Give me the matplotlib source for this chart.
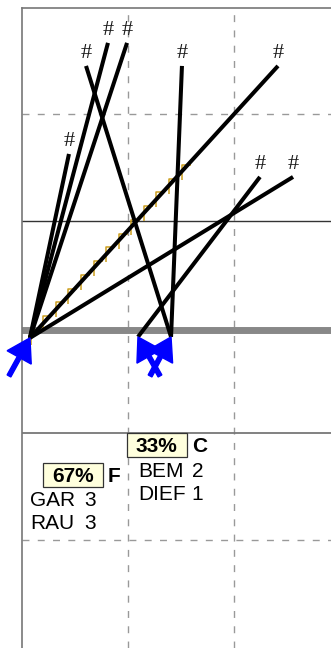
import numpy as np
import matplotlib
matplotlib.use('Agg')
import matplotlib.pyplot as plt
from matplotlib.patches import Rectangle

# ---- data ----
# origin points (where the passes start)
origin_x = [0.075, 1.094, 1.406]
origin_y = [-0.103, -0.094, -0.094]

# passes: origin index and end point
pass_origin = [0, 0, 0, 0, 0, 1, 2, 2]
pass_end_x = [0.443, 0.811, 0.991, 2.415, 2.557, 2.245, 1.509, 0.604]
pass_end_y = [1.627, 2.672, 2.672, 2.455, 1.411, 1.411, 2.455, 2.455]
pass_marks = ['#', '#', '#', '#', '#', '#', '#', '#']

# runs (blue arrows): tail points, arrow ends at origin of same index
run_tail_x = [-0.123, 1.302, 1.208]
run_tail_y = [-0.461, -0.461, -0.461]
run_origin = [0, 1, 2]

# dribble (marked along a pass)
dribble_x = [0.142, 1.566]
dribble_y = [-0.028, 1.524]
dribble_steps = 12

# grid
grid_x_dashed = [1, 2]
grid_y_dashed = [2, -2]
grid_y_dark = [1]
grid_y_grey = [-1]
halfway_y = [-0.03]

# summary labels
zone_pct = ['67%', '33%']
zone_letter = ['F', 'C']
zone_box_x = [0.478, 1.271]
zone_box_y = [-1.390, -1.110]
zone_letter_x = [0.811, 1.604]
players = [['GAR', 'RAU'], ['BEM', 'DIEF']]
player_counts = [[3, 3], [2, 1]]
player_x = [0.075, 1.094]
player_num_x = [0.698, 1.708]
player_y0 = [-1.684, -1.411]
line_step = 0.221

# ---- figure ----
fig = plt.figure(figsize=(3.31, 6.48), dpi=100)
ax = fig.add_axes([22 / 331, 0, 309 / 331, 640 / 648])
ax.set_xlim(0, 309 / 106)
ax.set_ylim(-3.02, 3.0)
ax.set_xticks([])
ax.set_yticks([])
for s in ['right', 'bottom']:
    ax.spines[s].set_visible(False)
for s in ['left', 'top']:
    ax.spines[s].set_color('#777777')
    ax.spines[s].set_linewidth(1.2)

dash = (0, (5, 6))
for gx in grid_x_dashed:
    ax.axvline(gx, color='#999999', lw=1.0, ls=dash, zorder=1)
for gy in grid_y_dashed:
    ax.axhline(gy, color='#999999', lw=1.0, ls=dash, zorder=1)
for gy in grid_y_dark:
    ax.axhline(gy, color='#333333', lw=1.0, zorder=1)
for gy in grid_y_grey:
    ax.axhline(gy, color='#777777', lw=1.3, zorder=1)
for gy in halfway_y:
    ax.axhline(gy, color='#888888', lw=5.0, zorder=1.5)

# dribble marks: small corner ticks along the pass
x0, x1 = dribble_x
y0, y1 = dribble_y
h = (x1 - x0) / dribble_steps
v = (y1 - y0) / dribble_steps
off = 0.06    # corner offset left of the line
hl = 0.085    # horizontal tick length
vl = 0.14     # vertical tick length
sx, sy = [], []
for k in range(dribble_steps + 1):
    qx, qy = x0 + k * h, y0 + k * v
    cx = qx - off
    sx += [cx + hl, cx, cx, np.nan]
    sy += [qy, qy, qy - vl, np.nan]
ax.plot(sx, sy, color='#cc9e1e', lw=1.1, zorder=2, solid_capstyle='butt')

# passes
for oi, ex, ey, mk in zip(pass_origin, pass_end_x, pass_end_y, pass_marks):
    ax.plot([origin_x[oi], ex], [origin_y[oi], ey], color='black', lw=2.9,
            solid_capstyle='butt', zorder=3)
    ax.annotate(mk, (ex, ey), xytext=(0, 5.5), textcoords='offset points',
                ha='center', va='baseline', fontsize=16,
                family='Liberation Serif', color='#1a1a1a', zorder=3)

# runs
for tx, ty, oi in zip(run_tail_x, run_tail_y, run_origin):
    ax.arrow(tx, ty, origin_x[oi] - tx, origin_y[oi] - ty, width=0.04,
             head_width=0.26, head_length=0.21, length_includes_head=True,
             color='#0000ff', clip_on=False, zorder=4)

# summary text
bw, bh = 60 / 106, 24 / 106.3
base_off = 7.5 / 106.3
for i in range(len(zone_pct)):
    cx, cy = zone_box_x[i], zone_box_y[i]
    ax.add_patch(Rectangle((cx - bw / 2, cy - bh / 2), bw, bh,
                           facecolor='#ffffdd', edgecolor='#333333', lw=0.9, zorder=5))
    ax.text(cx, cy - base_off, zone_pct[i], ha='center', va='baseline',
            fontsize=15, fontweight='bold', family='Liberation Sans', zorder=6)
    ax.text(zone_letter_x[i], cy - base_off, zone_letter[i], ha='left',
            va='baseline', fontsize=15, fontweight='bold',
            family='Liberation Sans', zorder=6)
    for j, (nm, cnt) in enumerate(zip(players[i], player_counts[i])):
        yy = player_y0[i] - j * line_step
        ax.text(player_x[i], yy, nm, ha='left', va='baseline', fontsize=15,
                family='Liberation Sans', zorder=6)
        ax.text(player_num_x[i], yy, str(cnt), ha='right', va='baseline',
                fontsize=15, family='Liberation Sans', zorder=6)

fig.savefig('out.png', dpi=100)
